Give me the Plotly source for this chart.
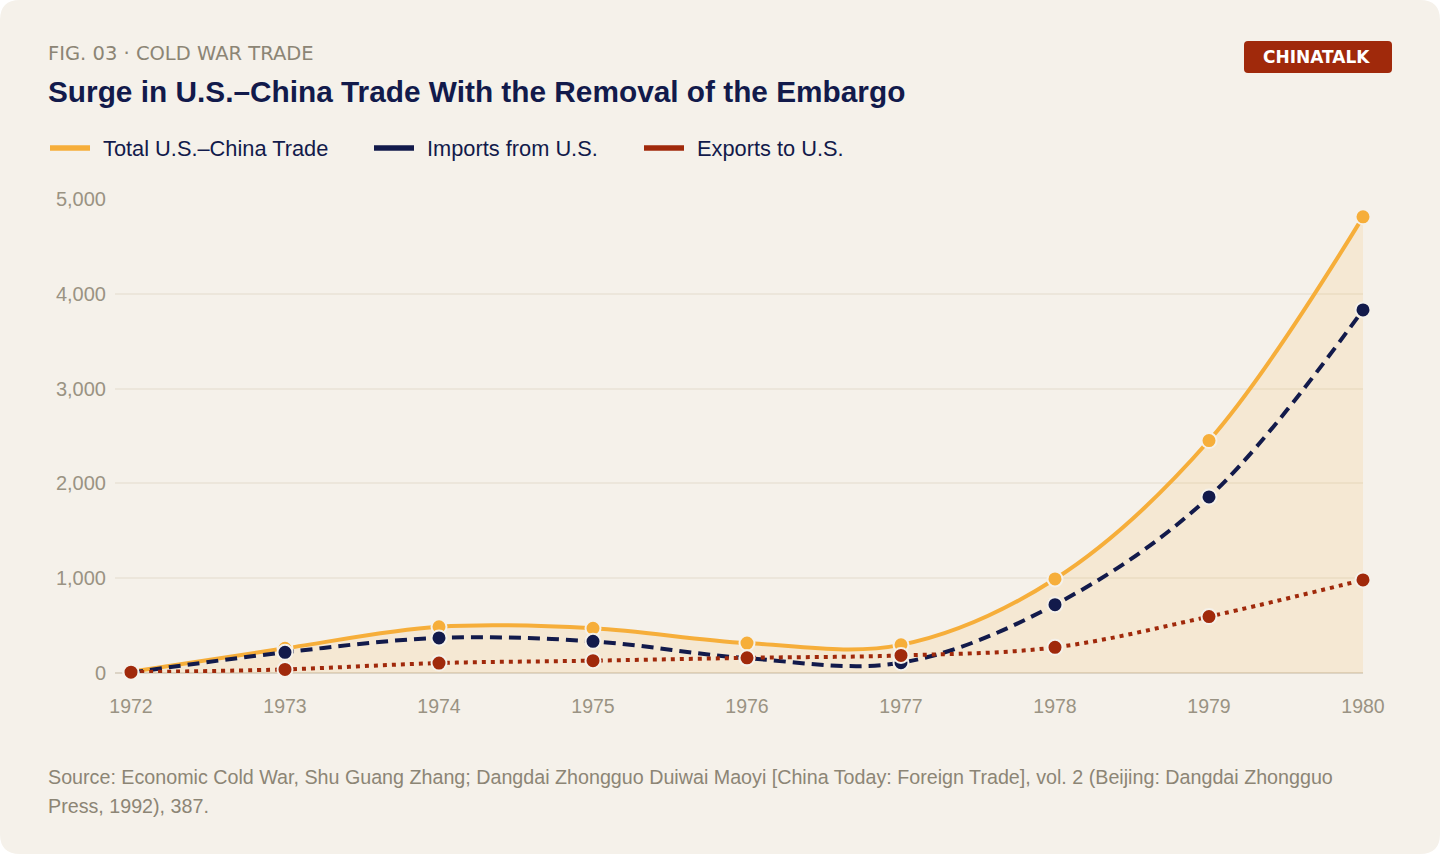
import plotly.graph_objects as go

# US-China trade, millions of US$
years = [1972, 1973, 1974, 1975, 1976, 1977, 1978, 1979, 1980]
total_trade = [13, 260, 488, 472, 316, 297, 992, 2452, 4812]
imports_from_us = [4, 218, 370, 334, 156, 108, 721, 1857, 3830]
exports_to_us = [9, 38, 105, 130, 160, 185, 271, 595, 982]

year_ticks = years
value_ticks = [0, 1000, 2000, 3000, 4000, 5000]
value_labels = ["0", "1,000", "2,000", "3,000", "4,000", "5,000"]

W, H = 1440, 854
BG = "#F5F1EA"
NAVY = "#121A4B"
GOLD = "#F6AE3A"
RED = "#A0290B"
GREY = "#8C8575"
FONT = "Liberation Sans, Arial, sans-serif"
WIDE = "DejaVu Sans, sans-serif"

# plot area in page pixels
L, R, T, B = 115, 1363, 199, 673


def px(x):
    return (x - L) / (R - L)


def py(y):
    return (B - y) / (B - T)


fig = go.Figure()

fig.add_trace(go.Scatter(
    x=years, y=total_trade, name="Total U.S.–China Trade",
    mode="lines+markers", line=dict(color=GOLD, width=4, shape="spline", smoothing=1),
    marker=dict(size=15, color=GOLD, line=dict(color=BG, width=2)),
    fill="tozeroy", fillcolor="rgba(246,174,58,0.13)", cliponaxis=False,
))
fig.add_trace(go.Scatter(
    x=years, y=imports_from_us, name="Imports from U.S.",
    mode="lines+markers",
    line=dict(color=NAVY, width=4, shape="spline", smoothing=1, dash="12px,7px"),
    marker=dict(size=15, color=NAVY, line=dict(color=BG, width=2)), cliponaxis=False,
))
fig.add_trace(go.Scatter(
    x=years, y=exports_to_us, name="Exports to U.S.",
    mode="lines+markers",
    line=dict(color=RED, width=4, shape="spline", smoothing=1, dash="4px,5px"),
    marker=dict(size=15, color=RED, line=dict(color=BG, width=2)), cliponaxis=False,
))

shapes = [
    # rounded card
    dict(type="path", xref="paper", yref="paper", layer="below",
         path=(f"M {px(20)} {py(0)} L {px(W-20)} {py(0)} Q {px(W)} {py(0)} {px(W)} {py(20)} "
               f"L {px(W)} {py(H-20)} Q {px(W)} {py(H)} {px(W-20)} {py(H)} "
               f"L {px(20)} {py(H)} Q {px(0)} {py(H)} {px(0)} {py(H-20)} "
               f"L {px(0)} {py(20)} Q {px(0)} {py(0)} {px(20)} {py(0)} Z"),
         fillcolor=BG, line=dict(width=0)),
    # badge
    dict(type="path", xref="paper", yref="paper",
         path=(f"M {px(1248)} {py(41)} L {px(1388)} {py(41)} Q {px(1392)} {py(41)} {px(1392)} {py(45)} "
               f"L {px(1392)} {py(69)} Q {px(1392)} {py(73)} {px(1388)} {py(73)} "
               f"L {px(1248)} {py(73)} Q {px(1244)} {py(73)} {px(1244)} {py(69)} "
               f"L {px(1244)} {py(45)} Q {px(1244)} {py(41)} {px(1248)} {py(41)} Z"),
         fillcolor=RED, line=dict(width=0)),
]

annotations = [
    dict(text="FIG. 03 · COLD WAR TRADE", x=px(46), y=py(53), xanchor="left", yanchor="middle",
         font=dict(family=WIDE, size=19.5, color=GREY)),
    dict(text="<b>Surge in U.S.–China Trade With the Removal of the Embargo</b>",
         x=px(46), y=py(92), xanchor="left", yanchor="middle",
         font=dict(family=FONT, size=29.8, color=NAVY)),
    dict(text="<b>CHINATALK</b>", x=px(1316), y=py(57), xanchor="center", yanchor="middle",
         font=dict(family=WIDE, size=17, color="white")),
    dict(text=("Source: Economic Cold War, Shu Guang Zhang; Dangdai Zhongguo Duiwai Maoyi "
               "[China Today: Foreign Trade], vol. 2 (Beijing: Dangdai Zhongguo"),
         x=px(46), y=py(777), xanchor="left", yanchor="middle",
         font=dict(family=FONT, size=19.7, color=GREY)),
    dict(text="Press, 1992), 387.",
         x=px(46), y=py(806), xanchor="left", yanchor="middle",
         font=dict(family=FONT, size=19.7, color=GREY)),
]

# custom legend
legend_items = [
    ("Total U.S.–China Trade", GOLD, 48),
    ("Imports from U.S.", NAVY, 372),
    ("Exports to U.S.", RED, 642),
]
for label, color, x0 in legend_items:
    shapes.append(dict(type="line", xref="paper", yref="paper",
                       x0=px(x0 + 2), x1=px(x0 + 42), y0=py(148), y1=py(148),
                       line=dict(color=color, width=5.5)))
    annotations.append(dict(text=label, x=px(x0 + 53), y=py(148), xanchor="left", yanchor="middle",
                            font=dict(family=FONT, size=21.8, color=NAVY)))

for a in annotations:
    a.update(xref="paper", yref="paper", showarrow=False)

fig.update_layout(
    width=W, height=H,
    margin=dict(l=L, r=W - R, t=T, b=H - B),
    paper_bgcolor="white", plot_bgcolor="rgba(0,0,0,0)",
    showlegend=False,
    shapes=shapes, annotations=annotations,
    font=dict(family=FONT, color=GREY),
    xaxis=dict(range=[1972 - (131 - L) / ((R - 131) / 8), 1980], tickvals=year_ticks,
               showgrid=False, zeroline=False, showline=False,
               ticks="outside", ticklen=16, tickcolor="rgba(0,0,0,0)",
               tickfont=dict(family=FONT, size=19.5, color="#9A9383")),
    yaxis=dict(range=[0, 5000], tickvals=value_ticks, ticktext=value_labels,
               showgrid=True, gridcolor="#ECE6DB", gridwidth=1.5,
               zeroline=True, zerolinecolor="#DCD4C6", zerolinewidth=2,
               showline=False, ticks="outside", ticklen=4, tickcolor="rgba(0,0,0,0)",
               tickfont=dict(family=FONT, size=20, color="#9A9383")),
    hovermode="x unified",
)

fig.write_html("out.html", config={"displayModeBar": False},
               post_script="document.body.style.margin='0';")
